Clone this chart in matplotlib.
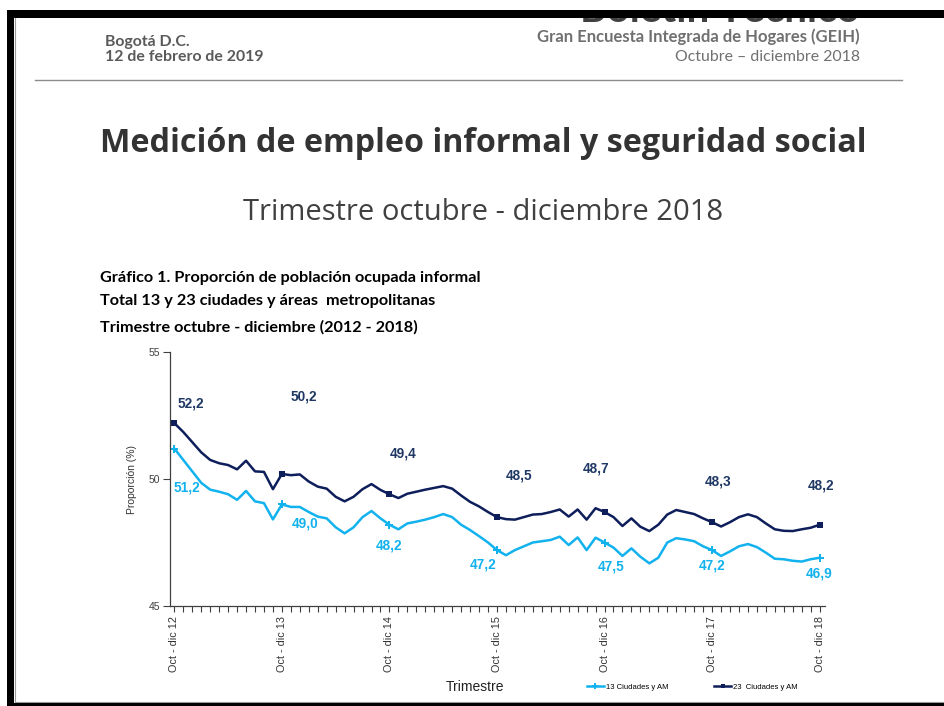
import numpy as np
import matplotlib
matplotlib.use("Agg")
import matplotlib.pyplot as plt
from matplotlib.patches import Rectangle
from matplotlib.lines import Line2D

W, H = 944, 706
LIGHT = "#12B2EE"
DARK = "#0E1E5B"
DARK_LBL = "#1F3864"

# monthly moving quarters, Oct-dic 2012 .. Oct-dic 2018
year_labels = ["Oct - dic 12", "Oct - dic 13", "Oct - dic 14", "Oct - dic 15",
               "Oct - dic 16", "Oct - dic 17", "Oct - dic 18"]

ciudades_13 = [51.2, 50.75, 50.3, 49.85, 49.58, 49.5, 49.4, 49.18, 49.53, 49.12,
               49.05, 48.41, 49.0, 48.9, 48.9, 48.7, 48.52, 48.45, 48.1, 47.86,
               48.1, 48.5, 48.74, 48.45, 48.2, 48.02, 48.25, 48.32, 48.4, 48.5,
               48.62, 48.5, 48.2, 47.99, 47.75, 47.5, 47.2, 47.0, 47.2, 47.35,
               47.5, 47.55, 47.6, 47.73, 47.4, 47.7, 47.2, 47.69, 47.5, 47.3,
               46.97, 47.27, 46.94, 46.68, 46.9, 47.5, 47.67, 47.62, 47.55, 47.35,
               47.2, 46.97, 47.15, 47.35, 47.44, 47.32, 47.1, 46.86, 46.84, 46.78,
               46.75, 46.84, 46.9]

ciudades_23 = [52.2, 51.85, 51.45, 51.05, 50.75, 50.62, 50.55, 50.38, 50.72, 50.3,
               50.28, 49.6, 50.2, 50.15, 50.18, 49.9, 49.7, 49.62, 49.3, 49.12,
               49.3, 49.6, 49.8, 49.57, 49.4, 49.25, 49.42, 49.5, 49.58, 49.65,
               49.72, 49.62, 49.35, 49.1, 48.92, 48.7, 48.5, 48.42, 48.4, 48.5,
               48.6, 48.62, 48.7, 48.8, 48.52, 48.8, 48.4, 48.85, 48.7, 48.5,
               48.15, 48.45, 48.12, 47.95, 48.2, 48.6, 48.78, 48.7, 48.62, 48.45,
               48.3, 48.13, 48.3, 48.5, 48.61, 48.5, 48.25, 48.02, 47.96, 47.95,
               48.02, 48.08, 48.2]

# label offsets in points (dx, dy) for each yearly point
off_23 = [(12, 14), (16, 56), (10, 29), (16, 30), (-6, 31), (4, 29), (1, 28)]
off_13 = [(9, -28), (17, -14), (0, -15), (-10, -10), (5, -17), (0, -11), (0, -11)]


def px(x, y):
    return x / W, 1 - y / H


fig = plt.figure(figsize=(W / 100, H / 100), dpi=100, facecolor="white")

# page header (top of the cut-off heading hidden by the black frame)
fig.text(*px(860, 22), "Boletín Técnico", ha="right", va="baseline",
         fontsize=29, fontweight="bold", color="#404040", family="Lato", zorder=1)
fig.add_artist(Rectangle(px(0, 10), 1, 10 / H, transform=fig.transFigure,
                         fc="white", ec="none", zorder=5))
fig.add_artist(Rectangle(px(7, 18), 1, 8 / H, transform=fig.transFigure,
                         fc="black", ec="none", zorder=6))
fig.add_artist(Rectangle(px(7, 706), 7 / W, 696 / H, transform=fig.transFigure,
                         fc="black", ec="none", zorder=6))
fig.add_artist(Rectangle(px(7, 706), 1, 3 / H, transform=fig.transFigure,
                         fc="black", ec="none", zorder=6))
fig.add_artist(Line2D([15 / W, 15 / W], [1 - 18 / H, 1 - 702 / H],
                      transform=fig.transFigure, color="#999", lw=0.8))
fig.add_artist(Line2D([15 / W, 1], [1 - 702 / H, 1 - 702 / H],
                      transform=fig.transFigure, color="#999", lw=0.8))

fig.text(*px(105, 42), "Bogotá D.C.", ha="left", va="center", fontsize=11.4,
         fontweight="bold", color="#5a5a5a", family="Lato")
fig.text(*px(105, 57), "12 de febrero de 2019", ha="left", va="center", fontsize=11.4,
         fontweight="bold", color="#5a5a5a", family="Lato")
fig.text(*px(860, 37), "Gran Encuesta Integrada de Hogares (GEIH)", ha="right",
         va="center", fontsize=12, fontweight="bold", color="#707070", family="Lato")
fig.text(*px(860, 57), "Octubre – diciembre 2018", ha="right", va="center",
         fontsize=11.4, color="#707070", family="Lato")
fig.add_artist(Line2D([35 / W, 902 / W], [1 - 80 / H, 1 - 80 / H],
                      transform=fig.transFigure, color="#8c8c8c", lw=1))

fig.text(*px(483, 143), "Medición de empleo informal y seguridad social", ha="center",
         va="center", fontsize=23.2, fontweight="bold", color="#333333", family="Open Sans")
fig.text(*px(483, 212), "Trimestre octubre - diciembre 2018", ha="center",
         va="center", fontsize=21, color="#404040", family="Open Sans")

captions = ["Gráfico 1. Proporción de población ocupada informal",
            "Total 13 y 23 ciudades y áreas  metropolitanas",
            "Trimestre octubre - diciembre (2012 - 2018)"]
for yy, cap in zip([278, 301, 327], captions):
    fig.text(*px(100, yy), cap, ha="left", va="center", fontsize=11.7,
             fontweight="bold", color="black", family="Lato")

# chart
ax = fig.add_axes([169.5 / W, 1 - 606 / H, (825 - 169.5) / W, (606 - 352) / H])
x = np.arange(len(ciudades_13))
yearly = x[::12]

ax.plot(x, ciudades_13, color=LIGHT, lw=1.8, solid_joinstyle="round",
        marker="P", markevery=12, ms=6, mew=0, label="13 Ciudades y AM")
ax.plot(x, ciudades_23, color=DARK, lw=1.8, solid_joinstyle="round",
        marker="s", markevery=12, ms=5, mew=0, label="23  Ciudades y AM")

for k, i in enumerate(yearly):
    v = ciudades_23[i]
    ax.annotate(f"{v:.1f}".replace(".", ","), (i, v), xytext=off_23[k],
                textcoords="offset points", ha="center", va="center",
                fontsize=9.8, fontweight="bold", color=DARK_LBL, family="Liberation Sans")
    v = ciudades_13[i]
    ax.annotate(f"{v:.1f}".replace(".", ","), (i, v), xytext=off_13[k],
                textcoords="offset points", ha="center", va="center",
                fontsize=9.8, fontweight="bold", color=LIGHT, family="Liberation Sans")

ax.set_xlim(-0.54, 72.6)
ax.set_ylim(45, 55)
ax.set_yticks([45, 50, 55])
ax.set_xticks(yearly)
ax.set_xticklabels(year_labels, rotation=90, fontsize=7.8, color="#333333",
                   family="Liberation Sans")
ax.set_xticks(x, minor=True)
ax.tick_params(axis="x", which="both", length=4, width=0.8, color="#404040", pad=3)
ax.tick_params(axis="y", length=5, width=0.8, color="#404040", labelsize=7.5,
               labelcolor="#404040", pad=2)
for t in ax.get_yticklabels():
    t.set_family("Liberation Sans")
for s in ["top", "right"]:
    ax.spines[s].set_visible(False)
for s in ["left", "bottom"]:
    ax.spines[s].set_color("#404040")
    ax.spines[s].set_linewidth(0.9)

ax.set_ylabel("Proporción (%)", fontsize=7.5, color="#333333", family="Liberation Sans",
              labelpad=8)
fig.text(*px(475, 687), "Trimestre", ha="center", va="center", fontsize=10,
         color="#222222", family="Liberation Sans")

fig.legend(loc="center left", bbox_to_anchor=px(580, 687), ncol=2,
           frameon=False, handlelength=2.2, handletextpad=0.3, columnspacing=6,
           markerscale=0.7, prop={"family": "Liberation Sans", "size": 5.5})

fig.savefig("out.png", dpi=100, facecolor="white")
